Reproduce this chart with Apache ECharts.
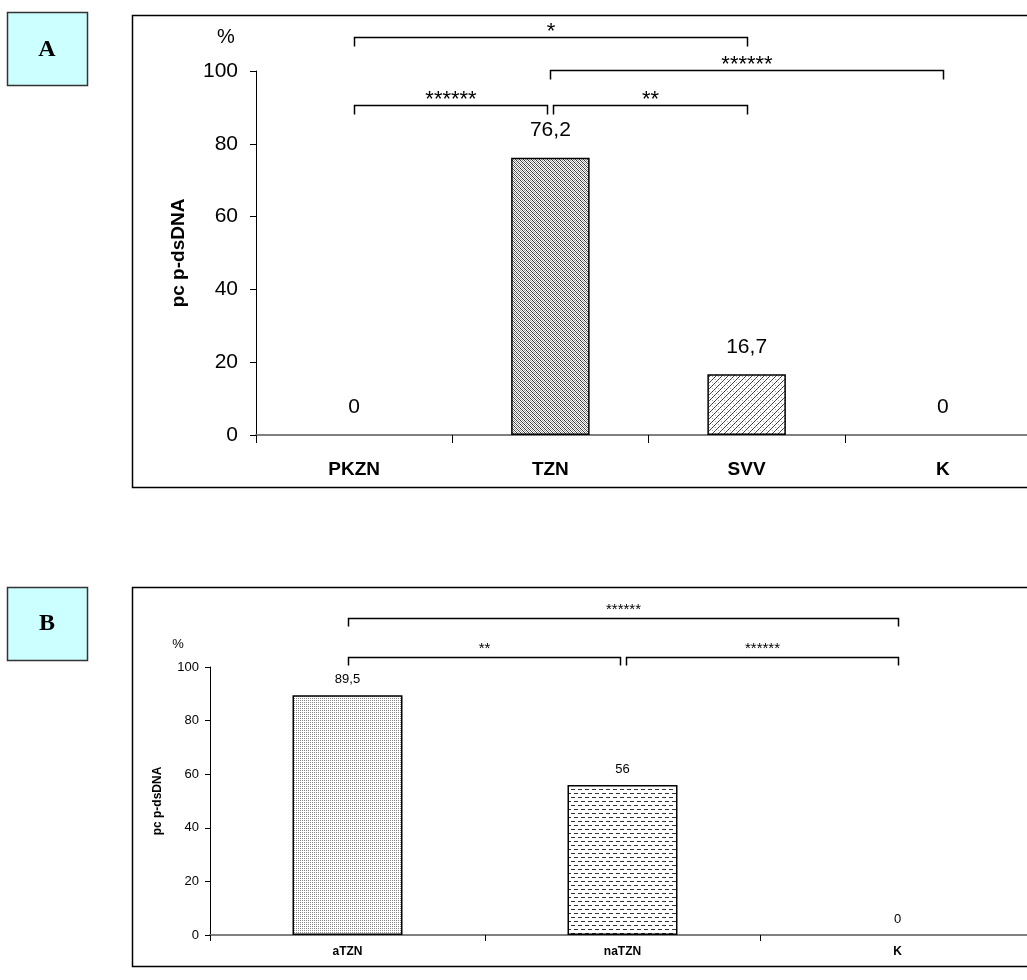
<!DOCTYPE html>
<html><head><meta charset="utf-8">
<script src="https://cdn.jsdelivr.net/npm/echarts@6/dist/echarts.min.js"></script>
<style>html,body{margin:0;padding:0;background:#fff}#c{width:1027px;height:980px}</style>
</head><body><div id="c"></div>
<script>
// ---- data ----
const categoriesA = ['PKZN', 'TZN', 'SVV', 'K'];
const valuesA = [0, 76.2, 16.7, 0];
const categoriesB = ['aTZN', 'naTZN', 'K'];
const valuesB = [89.5, 56, 0];
const yMin = 0, yMax = 100, yStep = 20;
const axisTitle = 'pc p-dsDNA';
const unitLabel = '%';
// significance brackets: [fromCategoryIndex, toCategoryIndex, level (value units), stars]
const bracketsA = [
  [0, 2, 109.3, '*'],
  [1, 3, 100.3, '******'],
  [0, 1, 90.7, '******'],
  [1, 2, 90.7, '**']
];
const bracketsB = [
  [0, 2, 118.3, '******'],
  [0, 1, 103.7, '**'],
  [1, 2, 103.7, '******']
];

// ---- patterns ----
function makePattern(w, h, pixels) {
  const c = document.createElement('canvas');
  c.width = w; c.height = h;
  const ctx = c.getContext('2d');
  ctx.fillStyle = '#fff'; ctx.fillRect(0, 0, w, h);
  pixels.forEach(p => { ctx.fillStyle = p[2]; ctx.fillRect(p[0], p[1], 1, 1); });
  return { image: c, repeat: 'repeat' };
}
const patDense = makePattern(4, 4, [
  [0,0,'#333'],[2,0,'#999'],[1,1,'#444'],[3,1,'#999'],
  [0,2,'#999'],[2,2,'#333'],[1,3,'#999'],[3,3,'#444']
]);
const diagPx = [];
for (let i = 0; i < 6; i++) { diagPx.push([i, 5 - i, (i % 2) ? '#555' : '#333']); }
diagPx.push([1, 1, '#aaa']); diagPx.push([4, 4, '#aaa']);
const patDiag = makePattern(6, 6, diagPx);
const patDots = makePattern(2, 2, [[0,0,'#888']]);
const patDash = makePattern(7, 8, [
  [0,1,'#333'],[1,1,'#333'],[2,1,'#333'],[3,1,'#333'],
  [4,5,'#333'],[5,5,'#333'],[6,5,'#333'],[0,5,'#333']
]);
const patternsA = [patDense, patDense, patDiag, patDiag];
const patternsB = [patDots, patDash, patDash];

const FONT = 'Liberation Sans, Arial, sans-serif';
const fmt = p => String(p.value).replace('.', ',');

function barSeries(xi, yi, values, patterns, fontSize, dist) {
  return {
    type: 'bar', xAxisIndex: xi, yAxisIndex: yi, barWidth: '40%', silent: true,
    data: values.map((v, i) => ({
      value: v,
      itemStyle: { color: patterns[i], borderColor: '#000', borderWidth: v > 0 ? 1.5 : 0 }
    })),
    label: { show: true, position: 'top', distance: dist, formatter: fmt, color: '#000', fontSize: fontSize, fontFamily: FONT }
  };
}

function bracketSeries(xi, yi, list, opt) {
  return {
    type: 'custom', xAxisIndex: xi, yAxisIndex: yi, clip: false, silent: true, z: 5,
    data: list.map(b => [b[0], b[1], b[2]]),
    encode: { x: [0, 1], y: 2 },
    renderItem(params, api) {
      const idx = params.dataIndex, b = list[idx];
      let inL = 0, inR = 0;
      list.forEach((o, j) => {
        if (j === idx || o[2] !== b[2]) return;
        if (o[1] === b[0]) inL = opt.gap;
        if (o[0] === b[1]) inR = opt.gap;
      });
      const p1 = api.coord([b[0], b[2]]), p2 = api.coord([b[1], b[2]]);
      const x1 = Math.round(p1[0] + inL) + 0.5, x2 = Math.round(p2[0] - inR) + 0.5, y = Math.round(p1[1]) + 0.5;
      return { type: 'group', children: [
        { type: 'polyline', shape: { points: [[x1, y + opt.drop], [x1, y], [x2, y], [x2, y + opt.drop]] },
          style: { stroke: '#000', lineWidth: opt.lw, fill: null } },
        { type: 'text', x: (x1 + x2) / 2, y: y - opt.textOff,
          style: { text: b[3], fontSize: opt.fs, fontFamily: FONT, fill: '#000',
                   textAlign: 'center', align: 'center', textVerticalAlign: 'middle', verticalAlign: 'middle' } }
      ]};
    }
  };
}

function yAxisCfg(gi, fs, margin, tick, nameFs, nameGap) {
  return {
    type: 'value', gridIndex: gi, min: yMin, max: yMax, interval: yStep,
    axisLine: { show: true, lineStyle: { color: '#000', width: 1 } },
    axisTick: { show: true, length: tick, lineStyle: { color: '#000' } },
    splitLine: { show: false },
    axisLabel: { color: '#000', fontSize: fs, fontFamily: FONT, margin: margin },
    name: axisTitle, nameLocation: 'middle', nameRotate: 90, nameGap: nameGap,
    nameTextStyle: { color: '#000', fontSize: nameFs, fontWeight: 'bold', fontFamily: FONT }
  };
}
function xAxisCfg(gi, cats, fs, margin, tick) {
  return {
    type: 'category', gridIndex: gi, data: cats,
    axisLine: { show: true, lineStyle: { color: '#808080', width: 2 } },
    axisTick: { show: true, length: tick, lineStyle: { color: '#000' } },
    axisLabel: { color: '#000', fontSize: fs, fontWeight: 'bold', fontFamily: FONT, margin: margin },
    splitLine: { show: false }
  };
}

const chart = echarts.init(document.getElementById('c'), null, { renderer: 'canvas' });
chart.setOption({
  backgroundColor: '#fff',
  animation: false,
  grid: [
    { left: 256, top: 71, right: -14, height: 364, containLabel: false, outerBoundsMode: 'none' },
    { left: 210, top: 667, right: -8, height: 268, containLabel: false, outerBoundsMode: 'none' }
  ],
  xAxis: [xAxisCfg(0, categoriesA, 19, 25, 8), xAxisCfg(1, categoriesB, 12, 11, 6)],
  yAxis: [yAxisCfg(0, 21, 18, 6, 19, 68), yAxisCfg(1, 13, 11, 5, 12, 46)],
  series: [
    barSeries(0, 0, valuesA, patternsA, 21, 17),
    barSeries(1, 1, valuesB, patternsB, 13, 9),
    bracketSeries(0, 0, bracketsA, { gap: 3, drop: 9, lw: 1.5, fs: 22, textOff: 6 }),
    bracketSeries(1, 1, bracketsB, { gap: 3, drop: 8, lw: 1.5, fs: 15, textOff: 9 })
  ],
  graphic: [
    { type: 'rect', shape: { x: 132.5, y: 15.5, width: 1000, height: 472 }, style: { fill: 'none', stroke: '#000', lineWidth: 1.5 }, silent: true },
    { type: 'rect', shape: { x: 132.5, y: 587.5, width: 1000, height: 379 }, style: { fill: 'none', stroke: '#000', lineWidth: 1.5 }, silent: true },
    { type: 'rect', shape: { x: 7.5, y: 12.5, width: 80, height: 73 }, style: { fill: '#ccffff', stroke: '#333', lineWidth: 1.5 }, silent: true },
    { type: 'rect', shape: { x: 7.5, y: 587.5, width: 80, height: 73 }, style: { fill: '#ccffff', stroke: '#333', lineWidth: 1.5 }, silent: true },
    { type: 'text', x: 47, y: 50, style: { text: 'A', fontSize: 24, fontWeight: 'bold', fontFamily: 'Liberation Serif, serif', fill: '#000', align: 'center', verticalAlign: 'middle' }, silent: true },
    { type: 'text', x: 47, y: 624, style: { text: 'B', fontSize: 24, fontWeight: 'bold', fontFamily: 'Liberation Serif, serif', fill: '#000', align: 'center', verticalAlign: 'middle' }, silent: true },
    { type: 'text', x: 226, y: 37, style: { text: unitLabel, fontSize: 20, fontFamily: FONT, fill: '#000', align: 'center', verticalAlign: 'middle' }, silent: true },
    { type: 'text', x: 178, y: 644, style: { text: unitLabel, fontSize: 13, fontFamily: FONT, fill: '#000', align: 'center', verticalAlign: 'middle' }, silent: true }
  ]
});
</script>
</body></html>
